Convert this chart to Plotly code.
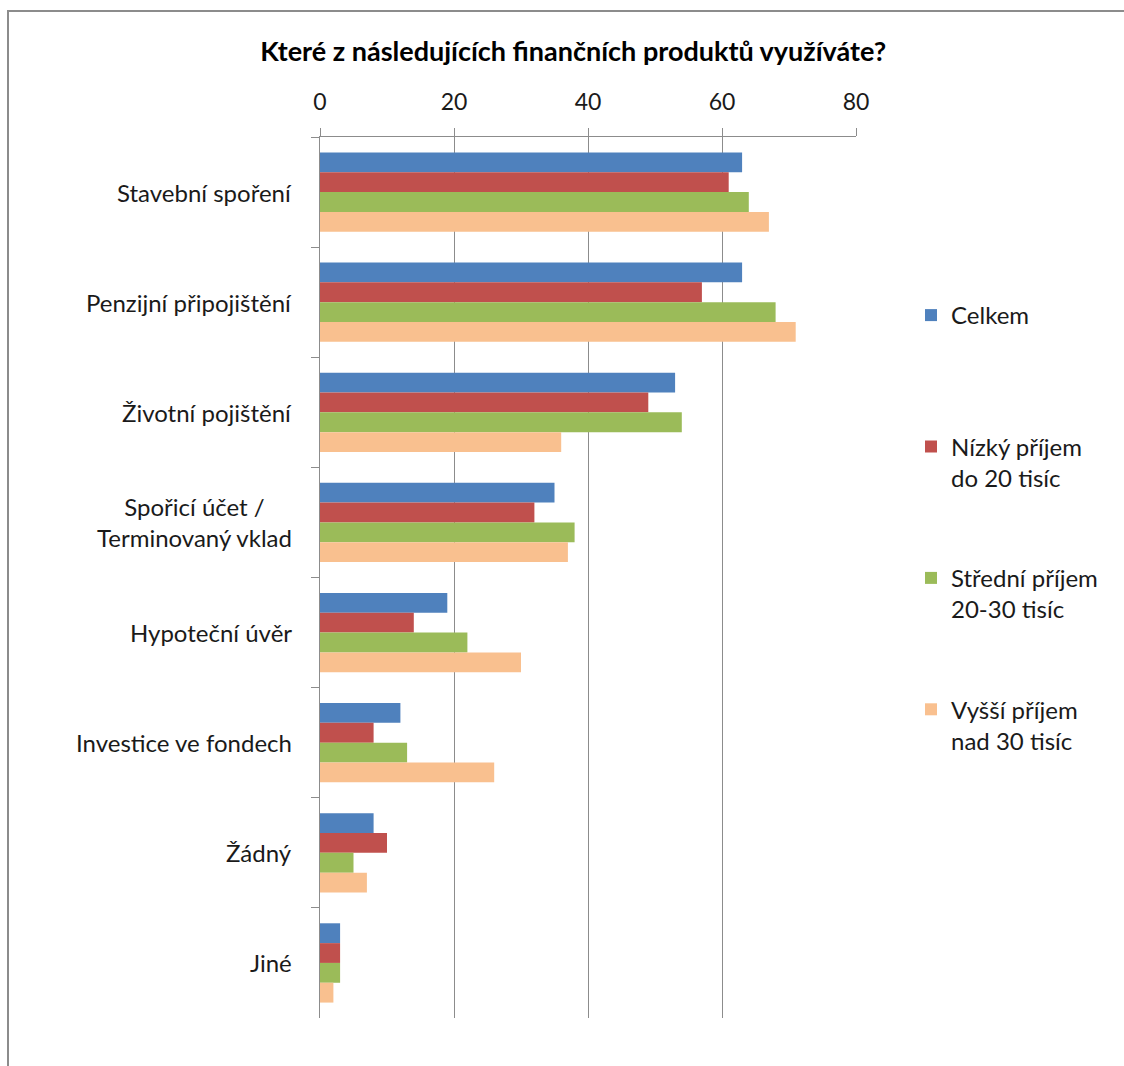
import plotly.graph_objects as go

# Survey answers: share of respondents (%) using each financial product
categories = [
    "Stavební spoření",
    "Penzijní připojištění",
    "Životní pojištění",
    "Spořicí účet /<br>Terminovaný vklad",
    "Hypoteční úvěr",
    "Investice ve fondech",
    "Žádný",
    "Jiné",
]
series_names = [
    "Celkem<br>\u00a0",
    "Nízký příjem<br>do 20 tisíc",
    "Střední příjem<br>20-30 tisíc",
    "Vyšší příjem<br>nad 30 tisíc",
]
celkem = [63, 63, 53, 35, 19, 12, 8, 3]
nizky = [61, 57, 49, 32, 14, 8, 10, 3]
stredni = [64, 68, 54, 38, 22, 13, 5, 3]
vyssi = [67, 71, 36, 37, 30, 26, 7, 2]
x_ticks = [0, 20, 40, 60, 80]

colors = ["#4F81BD", "#C0504D", "#9BBB59", "#F9C08F"]
FONT = "Lato, 'Open Sans', sans-serif"
GRAY = "#8C8C8C"
TEXT = "#1a1a1a"

fig = go.Figure()
for i, (name, vals) in enumerate(zip(series_names, [celkem, nizky, stredni, vyssi])):
    fig.add_trace(go.Bar(
        y=categories,
        x=vals,
        name=name,
        orientation="h",
        marker=dict(color=colors[i], line=dict(width=0)),
        legendgroup=f"g{i}",
    ))

# Category labels: centred multi-line text, right-aligned against the axis
annotations = [
    dict(
        x=0, y=cat, xref="x", yref="y",
        text=cat, showarrow=False,
        xanchor="right", yanchor="middle", align="center",
        xshift=-26,
        font=dict(family=FONT, size=24, color=TEXT),
    )
    for cat in categories
]

fig.update_layout(
    width=1124,
    height=1066,
    paper_bgcolor="white",
    plot_bgcolor="white",
    margin=dict(l=320, r=268, t=137, b=48),
    barmode="group",
    bargap=0.28,
    bargroupgap=0,
    font=dict(family=FONT, size=24, color=TEXT),
    title=dict(
        text="<b>Které z následujících finančních produktů využíváte?</b>",
        x=0.51, xanchor="center",
        y=1 - 52 / 1066, yanchor="middle", yref="container",
        font=dict(family=FONT, size=27, color="#000000"),
    ),
    xaxis=dict(
        side="top",
        range=[0, 80],
        tickvals=x_ticks,
        ticktext=[str(v) for v in x_ticks],
        showgrid=True,
        gridcolor=GRAY,
        gridwidth=1,
        showline=True,
        linecolor=GRAY,
        linewidth=1,
        ticks="outside",
        ticklen=8,
        tickcolor=GRAY,
        ticklabelstandoff=9,
        zeroline=False,
        tickfont=dict(family=FONT, size=23, color=TEXT),
        fixedrange=True,
    ),
    yaxis=dict(
        type="category",
        categoryorder="array",
        categoryarray=categories,
        range=[len(categories) - 0.5, -0.5],
        showticklabels=False,
        showgrid=False,
        showline=True,
        linecolor=GRAY,
        linewidth=1,
        ticks="outside",
        tickson="boundaries",
        ticklen=8,
        tickcolor=GRAY,
        zeroline=False,
        fixedrange=True,
    ),
    legend=dict(
        x=(911 - 320) / 536,
        xanchor="left",
        y=1 - (293 - 137) / 881,
        yanchor="top",
        valign="top",
        tracegroupgap=66,
        traceorder="grouped",
        font=dict(family=FONT, size=24, color=TEXT),
        bgcolor="rgba(0,0,0,0)",
    ),
    annotations=annotations,
    shapes=[
        # outer chart frame
        dict(
            type="rect", xref="paper", yref="paper",
            x0=(8 - 320) / 536, x1=2.0,
            y0=-1.0, y1=1 + (137 - 11) / 881,
            line=dict(color=GRAY, width=2),
            fillcolor="rgba(0,0,0,0)",
            layer="below",
        )
    ],
    showlegend=True,
)

fig.write_html("out.html")
